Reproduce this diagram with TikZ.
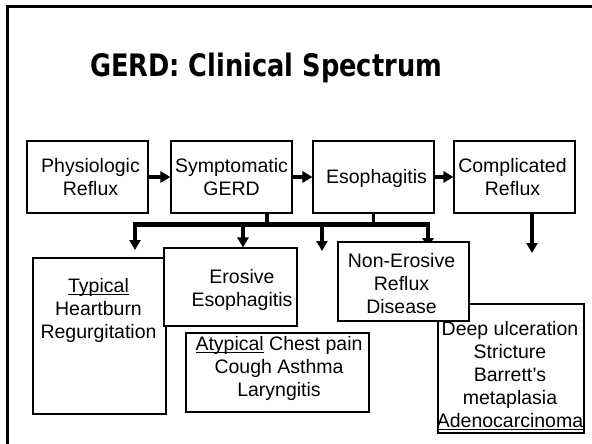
\documentclass[tikz,border=0pt]{standalone}
\usepackage{fontspec}
\usepackage{graphicx}
\setmainfont{Liberation Sans}
\newfontfamily\titlefont{DejaVu Sans}
\usetikzlibrary{arrows.meta,backgrounds}
\newcommand\myul[1]{\setbox0\hbox{#1}\rlap{\rule[-2.4pt]{\wd0}{1.1pt}}\box0\relax}
\tikzset{
  boxnode/.style={draw=black, line width=1.1pt, fill=white, rectangle, inner sep=0pt},
  txt/.style={align=center, inner sep=0pt, anchor=north, font=\fontsize{19.5}{23}\selectfont},
  arr/.style={line width=3.5pt, -{Triangle[length=10pt,width=11pt]}},
  thick line/.style={line width=3.5pt},
  barline/.style={line width=4.5pt, line cap=rect},
}
\begin{document}
\begin{tikzpicture}[x=1pt,y=-1pt]
\useasboundingbox (0,0) rectangle (592,444);
% frame
\draw[line width=2.5pt] (7.5,450) -- (7.5,6.5) -- (600,6.5);
% title
\node[anchor=base, inner sep=0pt] (title) at (266,77) {\resizebox{352pt}{23.5pt}{\titlefont\bfseries\fontsize{30}{36}\selectfont GERD: Clinical Spectrum}};
% top boxes
\node[boxnode, minimum width=121pt, minimum height=72pt] (phys) at (87.5,177) {};
\node[boxnode, minimum width=121pt, minimum height=72pt] (symp) at (231.5,177) {};
\node[boxnode, minimum width=121pt, minimum height=72pt] (eso) at (373.5,177) {};
\node[boxnode, minimum width=121pt, minimum height=72pt] (comp) at (514.5,177) {};
\node[txt] (physT) at (90.5,158) {Physiologic\\Reflux};
\node[txt] (sympT) at (231.5,158) {Symptomatic\\GERD};
\node[txt] (esoT) at (376.5,169) {Esophagitis};
\node[txt] (compT) at (512.5,158) {Complicated\\Reflux};
% lower boxes
\node[boxnode, minimum width=133pt, minimum height=156pt] (typ) at (99.5,336) {};
\node[boxnode, minimum width=133pt, minimum height=78pt] (eros) at (230.5,287) {};
\node[boxnode, minimum width=183pt, minimum height=79pt] (atyp) at (277.5,372.5) {};
\node[boxnode, minimum width=146pt, minimum height=129pt] (deep) at (511,368.5) {};
\node[boxnode, minimum width=131pt, minimum height=79pt] (non) at (403.5,281.5) {};
\node[txt] (typT) at (98.5,278) {\myul{Typical}\\Heartburn\\Regurgitation};
\node[txt] (erosT) at (242,269) {Erosive\\Esophagitis};
\node[txt] (atypT) at (279,336) {\myul{Atypical} Chest pain\\Cough Asthma\\Laryngitis};
\node[txt] (nonT) at (401.5,253) {Non-Erosive\\Reflux\\Disease};
\node[txt] (deepT) at (510,321) {Deep ulceration\\Stricture\\Barrett’s\\metaplasia\\\myul{Adenocarcinoma}};
% connector coordinates
\coordinate (j1) at (267,224.5);
\coordinate (bL) at (135,224.5);
\coordinate (bR) at (428,224.5);
\coordinate (b2) at (243,224.5);
\coordinate (b3) at (322,224.5);
\coordinate (t1) at (135,250);
\coordinate (t3) at (322,251);
\coordinate (t4) at (428,248);
\coordinate (c2) at (532,253);
\begin{scope}[on background layer]
\draw[arr] (phys.east) -- (symp.west);
\draw[arr] (symp.east) -- (eso.west);
\draw[arr] (eso.east) -- (comp.west);
\draw[thick line] (symp.south -| j1) -- (j1);
\draw[thick line] (eso.south) -- (eso.south |- j1);
\draw[barline] (bL) -- (bR);
\draw[arr] (bL) -- (t1);
\draw[arr] (b2) -- (eros.north -| b2);
\draw[arr] (b3) -- (t3);
\draw[arr] (bR) -- (t4);
\draw[arr] (comp.south -| c2) -- (c2);
\end{scope}
\end{tikzpicture}
\end{document}
